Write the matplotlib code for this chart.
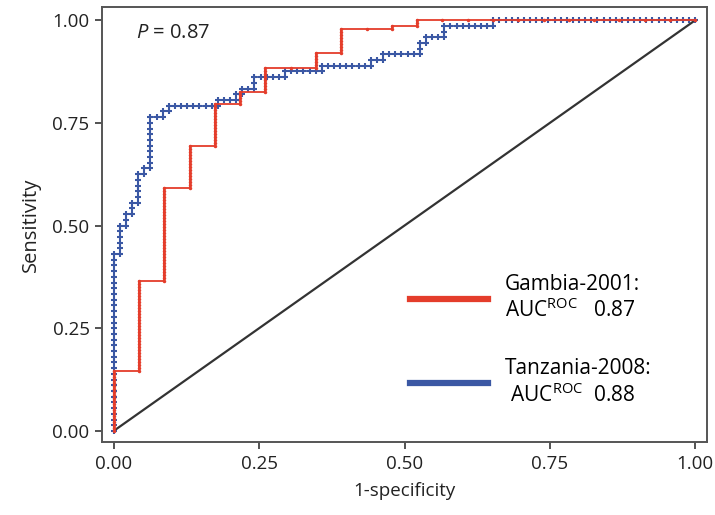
import matplotlib
matplotlib.use("Agg")
import matplotlib.pyplot as plt
from matplotlib.lines import Line2D

plt.rcParams["font.family"] = ["Open Sans", "DejaVu Sans"]
plt.rcParams["mathtext.fontset"] = "custom"
plt.rcParams["mathtext.rm"] = "Open Sans"
plt.rcParams["mathtext.it"] = "Open Sans:italic"

# ROC corners as counts: at each false-positive count the curve climbs to the given true-positive count
gambia_fp = [0, 1, 2, 3, 4, 5, 6, 8, 9, 11, 12]
gambia_tp = [20, 50, 81, 95, 109, 113, 121, 126, 134, 135, 137]
gambia_neg, gambia_pos = 23, 137

tanzania_fp = [0, 1, 2, 3, 4, 5, 6, 8, 9, 17, 20, 21, 23, 28, 34, 42, 44, 50, 51, 54, 62]
tanzania_tp = [31, 36, 38, 40, 45, 46, 55, 56, 57, 58, 59, 60, 62, 63, 64, 65, 66, 68, 69, 71, 72]
tanzania_neg, tanzania_pos = 95, 72

labels = ["Gambia-2001:\nAUC$^{\\mathrm{ROC}}$   0.87", "Tanzania-2008:\n AUC$^{\\mathrm{ROC}}$  0.88"]
p_text = "$P$ = 0.87"
ticks = [0.0, 0.25, 0.5, 0.75, 1.0]

RED = "#e43d2b"
BLUE = "#3b58a4"


def roc_points(fp, tp, n_neg, n_pos):
    # every case is one point on the ROC path
    xs, ys = [0], [0]
    cur_fp, cur_tp = 0, 0
    for f, t in zip(fp + [n_neg], tp + [n_pos]):
        for k in range(cur_fp + 1, f + 1):
            xs.append(k)
            ys.append(cur_tp)
        cur_fp = f
        for k in range(cur_tp + 1, t + 1):
            xs.append(cur_fp)
            ys.append(k)
        cur_tp = t
    return [x / n_neg for x in xs], [y / n_pos for y in ys]


fig = plt.figure(figsize=(7.15, 5.15), dpi=100)
ax = fig.add_axes([0.1427, 0.1417, 0.8461, 0.8447])

ax.plot([0, 1], [0, 1], color="#333333", lw=1.6, zorder=1)

tx, ty = roc_points(tanzania_fp, tanzania_tp, tanzania_neg, tanzania_pos)
ax.plot(tx, ty, color=BLUE, lw=1.3, marker="+", ms=4.5, mew=1.5, zorder=2)

gx, gy = roc_points(gambia_fp, gambia_tp, gambia_neg, gambia_pos)
ax.plot(gx, gy, color=RED, lw=1.3, marker=".", ms=3, zorder=3)

ax.set_xlim(-0.02, 1.02)
ax.set_ylim(-0.027, 1.032)
ax.set_xticks(ticks)
ax.set_yticks(ticks)
ax.set_xticklabels([f"{t:.2f}" for t in ticks])
ax.set_yticklabels([f"{t:.2f}" for t in ticks])
ax.tick_params(direction="out", length=5, width=1.3, color="#444444",
               labelsize=13.5, labelcolor="#222222", pad=4)
for s in ax.spines.values():
    s.set_color("#555555")
    s.set_linewidth(1.4)

ax.set_xlabel("1-specificity", fontsize=13.5, color="#222222", labelpad=7)
ax.set_ylabel("Sensitivity", fontsize=14.5, color="#222222", labelpad=8)

ax.text(0.038, 0.968, p_text, fontsize=14.5, color="#222222", va="center", ha="left")

handles = [Line2D([], [], color=RED, lw=4.5), Line2D([], [], color=BLUE, lw=4.5)]
ax.legend(handles, labels, loc="center left", bbox_to_anchor=(0.509, 0.234),
          frameon=False, fontsize=15, handlelength=3.75, handletextpad=0.8,
          labelspacing=1.75, borderpad=0, borderaxespad=0)

fig.savefig("out.png", dpi=100)
